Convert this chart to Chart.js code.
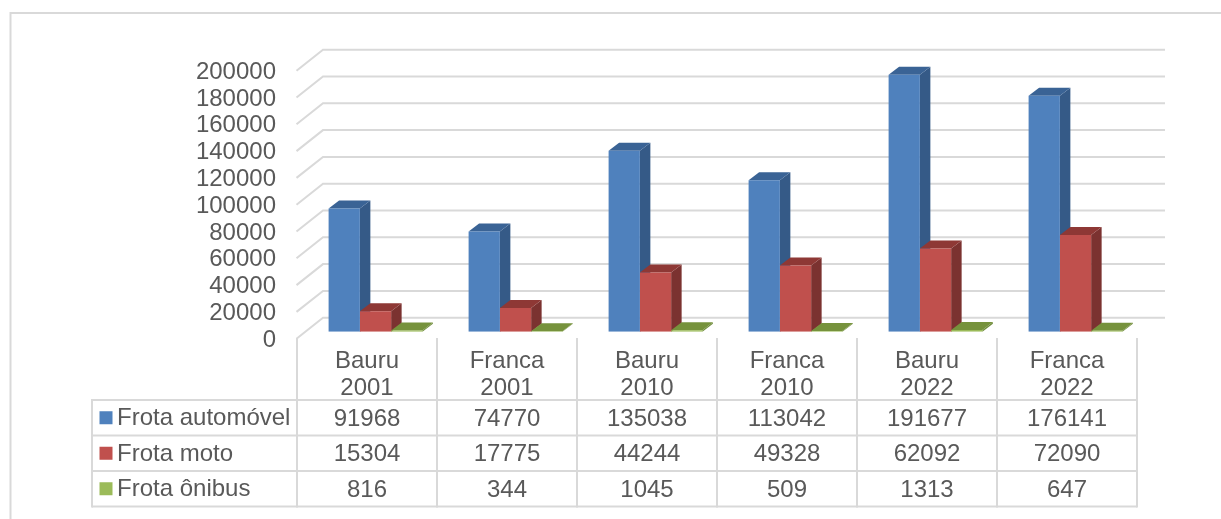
<!DOCTYPE html>
<html lang="pt">
<head>
<meta charset="utf-8">
<title>Frota</title>
<style>html,body{margin:0;padding:0;background:#fff}canvas{display:block}</style>
<script src="https://cdn.jsdelivr.net/npm/chart.js@4"></script>
</head>
<body>
<canvas id="c" width="1221" height="519"></canvas>
<script>
const categories = [["Bauru","2001"],["Franca","2001"],["Bauru","2010"],["Franca","2010"],["Bauru","2022"],["Franca","2022"]];
const seriesNames = ["Frota automóvel","Frota moto","Frota ônibus"];
const frotaAutomovel = [91968,74770,135038,113042,191677,176141];
const frotaMoto = [15304,17775,44244,49328,62092,72090];
const frotaOnibus = [816,344,1045,509,1313,647];

const FONT = '"Liberation Sans", Arial, sans-serif';
const SIZE = 24, TXT = '#595959', LINE = '#d9d9d9';
const front = ['#4F81BD','#C0504D','#9BBB59'];
const side = ['#355A87','#7B3230','#6F8C3C'];
const top3d = ['#3A6395','#8E3835','#76923C'];
const DX = 10.5, DY = -8;

const line = (ctx,x1,y1,x2,y2)=>{ctx.beginPath();ctx.moveTo(x1,y1);ctx.lineTo(x2,y2);ctx.stroke();};
const poly = (ctx,pts,fill)=>{ctx.fillStyle=fill;ctx.beginPath();pts.forEach((p,i)=>i?ctx.lineTo(p[0],p[1]):ctx.moveTo(p[0],p[1]));ctx.closePath();ctx.fill();};

const chrome = {
  id:'chrome',
  beforeDatasetsDraw(chart){
    const {ctx,scales:{y},chartArea:a} = chart;
    ctx.save();
    ctx.strokeStyle = LINE; ctx.lineWidth = 2;
    // outer frame
    ctx.beginPath();ctx.moveTo(10.5,519);ctx.lineTo(10.5,13);ctx.lineTo(1221,13);ctx.stroke();
    // walls: gridlines
    y.ticks.forEach(t=>{
      const p = y.getPixelForValue(t.value);
      ctx.beginPath();
      ctx.moveTo(a.left-9, p+7);
      ctx.lineTo(a.left+17.5, p-14);
      ctx.lineTo(1165, p-14);
      ctx.stroke();
    });
    // 3D sides, column by column
    const metas = [0,1,2].map(i=>chart.getDatasetMeta(i));
    categories.forEach((_,k)=>{
      metas.forEach((m,s)=>{
        const e = m.data[k].getProps(['x','y','base','width'],true);
        const l = e.x-e.width/2, r = e.x+e.width/2;
        poly(ctx,[[r,e.y],[r+DX,e.y+DY],[r+DX,e.base+DY],[r,e.base]],side[s]);
        poly(ctx,[[l,e.y],[l+DX,e.y+DY],[r+DX,e.y+DY],[r,e.y]],top3d[s]);
      });
    });
    ctx.restore();
  },
  afterDraw(chart){
    const {ctx} = chart;
    const colW = 140, x0 = 297;
    const rowY = [400,435.5,471,506.5];
    const tableRows = [frotaAutomovel,frotaMoto,frotaOnibus];
    ctx.save();
    ctx.strokeStyle = LINE; ctx.lineWidth = 2;
    for(let i=0;i<=categories.length;i++) line(ctx,x0+i*colW,338,x0+i*colW,507.5);
    rowY.forEach(v=>line(ctx,92,v,x0+categories.length*colW,v));
    line(ctx,92,399,92,507.5);
    ctx.font = SIZE+'px '+FONT; ctx.fillStyle = TXT; ctx.textBaseline='middle';
    tableRows.forEach((vals,r)=>{
      const cy = (rowY[r]+rowY[r+1])/2 + 0.5;
      ctx.fillStyle = front[r];
      ctx.fillRect(99.5,cy-7,13,13);
      ctx.fillStyle = TXT;
      ctx.textAlign='left';
      ctx.fillText(seriesNames[r],117,cy+0.5);
      ctx.textAlign='center';
      vals.forEach((v,i)=>ctx.fillText(String(v),x0+colW*(i+.5),cy+1));
    });
    ctx.restore();
  }
};

new Chart(document.getElementById('c'),{
  type:'bar',
  data:{
    labels:categories,
    datasets:[
      {label:seriesNames[0],data:frotaAutomovel,backgroundColor:front[0]},
      {label:seriesNames[1],data:frotaMoto,backgroundColor:front[1]},
      {label:seriesNames[2],data:frotaOnibus,backgroundColor:front[2]}
    ]
  },
  plugins:[chrome],
  options:{
    responsive:false,
    animation:false,
    events:[],
    devicePixelRatio:1,
    layout:{padding:{left:0,top:63.7,right:75.5,bottom:97.3}},
    datasets:{bar:{categoryPercentage:0.67,barPercentage:1,borderWidth:0}},
    plugins:{legend:{display:false},title:{display:false},tooltip:{enabled:false}},
    scales:{
      x:{
        grid:{display:false,drawTicks:false},border:{display:false},
        afterFit(s){s.height=90;},
        ticks:{autoSkip:false,maxRotation:0,minRotation:0,labelOffset:-8.5,padding:16,color:TXT,
          font:{family:FONT,size:SIZE,lineHeight:27/SIZE}}
      },
      y:{
        min:0,max:200000,
        grid:{display:false,drawTicks:false},border:{display:false},
        afterFit(s){s.width=305.5;},
        ticks:{autoSkip:false,stepSize:20000,padding:29.5,labelOffset:8.5,color:TXT,callback:v=>String(v),
          font:{family:FONT,size:SIZE}}
      }
    }
  }
});
</script>
</body>
</html>
